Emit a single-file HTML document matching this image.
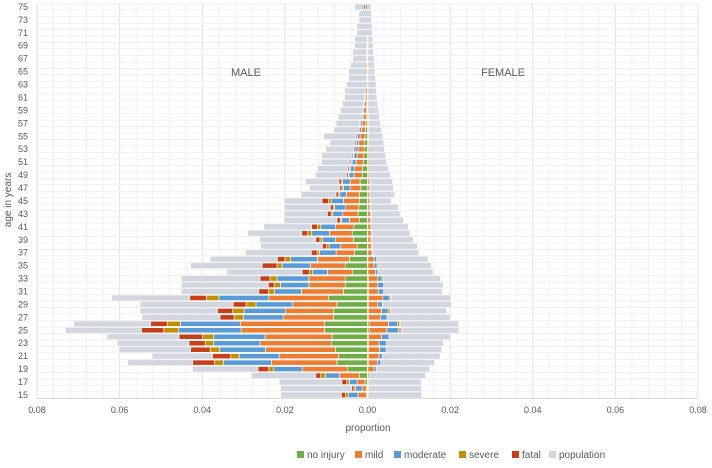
<!DOCTYPE html>
<html><head><meta charset="utf-8"><style>
body{margin:0;background:#fff;font-family:"Liberation Sans",sans-serif;}
svg text{font-family:"Liberation Sans",sans-serif;fill:#595959;}
</style></head><body>
<svg id="chart" width="712" height="463" xmlns="http://www.w3.org/2000/svg">
<g id="grid"></g>
<g id="bars"></g>
<g id="axes"></g>
<text x="246" y="76" text-anchor="middle" font-size="11">MALE</text>
<text x="503" y="76" text-anchor="middle" font-size="11">FEMALE</text>
<text x="368" y="431" text-anchor="middle" font-size="10">proportion</text>
<text transform="translate(11,200) rotate(-90)" text-anchor="middle" font-size="10">age in years</text>
<g id="legend"></g>
</svg>
<script>
const ages = [];
for (let a = 15; a <= 75; a++) ages.push(a);
// values in units of 0.001
const malePop = [20.9,21,21.3,28,42.3,58,52,60,60.5,63,73,71,54.5,55,55,61.8,45,45,45,34,42.7,38,29.4,25.8,26,29,25,20,20,20,20,16,14,15,12.5,12,11,11,10,9,10.5,8,7.5,7,6.5,6,5.5,5.5,5,4.5,4.5,4,3.5,3.5,3,3,2.5,2.5,2,2,3];
const maleNone = [0.3,0.3,0.6,2,4.8,7.4,7,7.8,8.8,8.6,10.4,10.4,8.2,8.2,7.4,9.4,5.8,5.4,5.4,3.7,5.4,4.4,3.2,2.5,3.4,3.7,3.3,2,2.3,2.1,1.9,1.9,1.6,1.8,1.3,1.2,1,0.9,0.8,0.8,0.6,0.5,0.4,0.3,0.3,0.2,0.1,0.1,0,0,0,0,0,0,0,0,0,0,0,0,0];
const maleMild = [2,1,1.9,4.8,11,15.8,14.4,16.9,17.2,16.2,20.2,20.4,12.2,11.6,10.7,14.5,10.2,8.8,8.8,6,8.4,7.7,4.4,4,4.3,5.5,4.4,2.4,3.7,3.2,3.9,3.2,2.6,2.4,2,2,1.8,1.6,1.5,1.3,1.2,1,0.9,0.7,0.6,0.5,0.4,0.4,0.3,0.2,0.3,0.3,0.2,0.2,0.2,0.1,0,0,0,0,0.5];
const maleModerate = [2.4,1.6,1.9,3.4,6.9,11.7,9.7,11.1,11.3,12.4,15.1,14.5,9.6,10.1,8.9,12.1,6.5,6.9,7.7,3.6,6.9,6.5,4,2.8,3.2,4.3,3.6,1.9,2.4,2.7,3,1.6,1.6,1.8,1.2,1,0.9,0.8,0.7,0.6,0.6,0.5,0.4,0.3,0.3,0.2,0.1,0,0,0,0,0,0,0,0,0,0,0,0,0,0.5];
const maleSevere = [0.6,0.4,0.6,1.1,1.2,2.1,2,2.3,2,2.7,3.6,3.2,2.3,2.7,2.4,3,1.5,1.5,1.7,0.8,1.2,1.4,0.6,0.6,0.6,1,0.8,0.3,0.4,0.3,0.6,0.3,0.4,0.3,0.2,0.2,0.2,0.1,0,0,0,0,0,0,0,0,0,0,0,0,0,0,0,0,0,0,0,0,0,0,0.3];
const maleFatal = [1,0.5,1.2,1.2,2.6,5.3,4.4,4.7,3.9,5.7,5.4,4,3.4,3.7,3.1,4,2.3,1.4,2.4,1.7,3.6,1.8,1.4,1,1,1.4,1.4,0.8,0.9,0.7,1.6,0.6,0.5,0.6,0.4,0.3,0.3,0.3,0.3,0.3,0.3,0.2,0.2,0,0,0,0,0,0,0,0,0,0,0,0,0,0,0,0,0,0];
const femalePop = [13,13,13,14,15,16.2,17.5,17.9,18.3,20,22,22,20,19,20.3,20,18,18.3,17.6,15.8,15.4,14.6,12.4,12,11,10.2,9.8,8.6,7.8,7.4,5.7,6.5,6.2,6,5.5,5,4.6,4.3,4,3.8,3.6,3.3,3,2.8,2.6,2.4,2.2,2.1,2,1.8,1.7,1.6,1.5,1.4,1.3,1.2,1.1,1,0.9,0.9,0.8];
const femaleNone = [0.1,0.1,0.1,0.1,0.1,0.2,0.2,0.2,0.2,0.2,0.4,0.4,0.2,0.2,0.2,0.2,0.2,0.2,0.2,0.1,0.1,0.1,0.1,0.1,0.1,0.1,0.1,0.1,0.1,0.1,0.1,0,0,0,0,0,0,0,0,0,0,0,0,0,0,0,0,0,0,0,0,0,0,0,0,0,0,0,0,0,0];
const femaleMild = [0.2,0.2,0.2,0.3,1.5,2.2,2.6,2.7,2.6,3.2,4.3,4.7,2.9,3.2,2.3,3.5,2.4,2.3,2.3,1.8,1.5,1.5,1,0.8,0.7,0.8,0.7,0.6,0.6,0.5,0.5,0.4,0.4,0.4,0.3,0.3,0.3,0.3,0.3,0.2,0.2,0.2,0.2,0.2,0.1,0.1,0.1,0.1,0.1,0.1,0.1,0.1,0.1,0.1,0.1,0.1,0,0,0,0,0.3];
const femaleModerate = [0,0,0,0,0.5,0.8,0.8,1.6,1.8,1.8,2.8,2.2,1.6,1.6,1.1,1.6,1.3,1.4,1,0.6,0.7,0.6,0.2,0.2,0.2,0.2,0.2,0.2,0.2,0.2,0.2,0,0,0,0,0,0,0,0,0,0,0,0,0,0,0,0,0,0,0,0,0,0,0,0,0,0,0,0,0,0];
const femaleSevere = [0,0,0,0,0,0,0,0,0,0,0.4,0.5,0,0.5,0,0.4,0,0,0.3,0,0.3,0,0,0,0,0,0,0,0,0,0,0,0,0,0,0,0,0,0,0,0,0,0,0,0,0,0,0,0,0,0,0,0,0,0,0,0,0,0,0,0];
const femaleFatal = [0,0,0,0,0,0,0,0,0,0,0.3,0.1,0,0.1,0,0.1,0,0,0,0,0,0,0,0,0,0,0,0,0,0,0,0,0,0,0,0,0,0,0,0,0,0,0,0,0,0,0,0,0,0,0,0,0,0,0,0,0,0,0,0,0];
const xTicks = [-0.08,-0.06,-0.04,-0.02,0,0.02,0.04,0.06,0.08];
const xTickLabels = ["0.08","0.06","0.04","0.02","0.00","0.02","0.04","0.06","0.08"];
const categories = ["no injury","mild","moderate","severe","fatal","population"];
const colors = ["#70ad47","#ed7d31","#5b9bd5","#bf9000","#c5401a","#d1d6df"];

const NS = "http://www.w3.org/2000/svg";
const X0 = 37, X1 = 698, YT = 3.7, YB = 398.2;
const xs = v => X0 + (v + 0.08) / 0.16 * (X1 - X0);
const band = (YB - YT) / ages.length;
const ys = a => YB - (a - 15 + 0.5) * band;
function mk(tag, attrs, parent) {
  const e = document.createElementNS(NS, tag);
  for (const k in attrs) e.setAttribute(k, attrs[k]);
  parent.appendChild(e);
  return e;
}
const grid = document.getElementById('grid'), bars = document.getElementById('bars'), axes = document.getElementById('axes'), legend = document.getElementById('legend');
// grid
for (let i = 0; i <= 40; i++) {
  const v = -0.08 + i * 0.004;
  const l = mk('line', {x1: xs(v), x2: xs(v), y1: YT, y2: YB, stroke: i % 5 === 0 ? '#e0e0e0' : '#f0f0f0', 'stroke-width': 1}, grid);
  
  
}
for (let i = 0; i <= ages.length; i++) {
  const y = YB - i * band;
  const l = mk('line', {x1: X0, x2: X1, y1: y, y2: y, stroke: '#f0f0f0', 'stroke-width': 1}, grid);
  
  
}
const bh = band * 0.8;
ages.forEach((a, i) => {
  const yc = ys(a), y = yc - bh / 2;
  // population
  const mp = mk('rect', {x: xs(-malePop[i] / 1000), y: y, width: xs(0) - xs(-malePop[i] / 1000), height: bh, fill: colors[5]}, bars);
  
  
  const fp = mk('rect', {x: xs(0), y: y, width: xs(femalePop[i] / 1000) - xs(0), height: bh, fill: colors[5]}, bars);
  
  
  const mSeries = [maleNone, maleMild, maleModerate, maleSevere, maleFatal];
  const fSeries = [femaleNone, femaleMild, femaleModerate, femaleSevere, femaleFatal];
  let acc = 0;
  mSeries.forEach((s, k) => {
    const v = s[i];
    if (v > 0) {
      const r = mk('rect', {x: xs(-(acc + v) / 1000), y: y, width: xs(0) - xs(-v / 1000), height: bh, fill: colors[k], stroke: '#fff', 'stroke-width': 0.6}, bars);
      
      
    }
    acc += v;
  });
  acc = 0;
  fSeries.forEach((s, k) => {
    const v = s[i];
    if (v > 0) {
      const r = mk('rect', {x: xs(acc / 1000), y: y, width: xs(v / 1000) - xs(0), height: bh, fill: colors[k], stroke: '#fff', 'stroke-width': 0.6}, bars);
      
      
    }
    acc += v;
  });
});
// axes
const ax = mk('line', {x1: X0, x2: X1, y1: YB, y2: YB, stroke: '#d9d9d9', 'stroke-width': 1}, axes);


xTicks.forEach((v, i) => {
  const t = mk('text', {x: xs(v), y: 413, 'text-anchor': 'middle', 'font-size': 9}, axes);
  t.textContent = xTickLabels[i];
  
  
});
ages.forEach(a => {
  if ((a - 15) % 2 === 0) {
    const t = mk('text', {x: 28, y: ys(a) + 3, 'text-anchor': 'end', 'font-size': 9}, axes);
    t.textContent = a;
    
    
  }
});
// legend
const legX = [297, 355, 394, 459, 512, 549];
categories.forEach((c, k) => {
  const g = mk('g', {}, legend);
  
  
  mk('rect', {x: legX[k], y: 451, width: 7, height: 7, fill: colors[k]}, g);
  const t = mk('text', {x: legX[k] + 10, y: 458, 'font-size': 10}, g);
  t.textContent = c;
});
</script>
</body></html>
